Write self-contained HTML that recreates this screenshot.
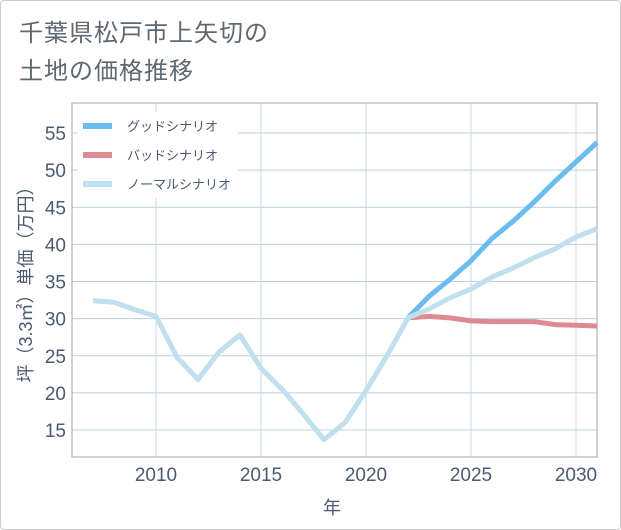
<!DOCTYPE html>
<html><head><meta charset="utf-8"><style>
html,body{margin:0;padding:0;background:#fff}
#card{position:absolute;left:0;top:0;width:619px;height:528px;border:1px solid #ccc;border-radius:4px;background:#fff}
#title{position:absolute;left:18px;top:14px;font:24px/38px "Liberation Sans","Noto Sans CJK JP",sans-serif;color:#5f6870;letter-spacing:1px}
svg text{font-family:"Liberation Sans","Noto Sans CJK JP",sans-serif}
</style></head><body>
<div id="card">
<div id="title">千葉県松戸市上矢切の<br>土地の価格推移</div>
</div>
<svg id="chart" width="621" height="530" style="position:absolute;left:0;top:0"></svg>
<script>
const normalYears=[2007,2008,2009,2010,2011,2012,2013,2014,2015,2016,2017,2018,2019,2020,2021,2022,2023,2024,2025,2026,2027,2028,2029,2030,2031];
const normalValues=[32.4,32.2,31.2,30.3,24.8,21.8,25.5,27.8,23.3,20.5,17.2,13.7,16,20.3,25,30.1,31.3,32.8,34,35.6,36.8,38.2,39.4,41,42.1];
const futureYears=[2022,2023,2024,2025,2026,2027,2028,2029,2030,2031];
const goodValues=[30.1,33,35.3,37.8,40.8,43.1,45.7,48.5,51.1,53.7];
const badValues=[30.1,30.3,30.1,29.7,29.6,29.6,29.6,29.2,29.1,29.0];
const yTicks=[15,20,25,30,35,40,45,50,55];
const xTicks=[2010,2015,2020,2025,2030];
const legendLabels=["グッドシナリオ","バッドシナリオ","ノーマルシナリオ"];

const L=72,R=597,T=103,B=457;
const xs=y=>156+(y-2010)*21;
const ys=v=>133+(55-v)*(297/40);
const svg=document.getElementById('chart');
const NS='http://www.w3.org/2000/svg';
function mk(t,a){const e=document.createElementNS(NS,t);for(const k in a)e.setAttribute(k,a[k]);svg.appendChild(e);return e;}
yTicks.forEach(v=>{
  const l=mk('line',{x1:L,x2:R,y1:ys(v),y2:ys(v),stroke:'#bcd0e0','stroke-width':1});
  
  
  const t=mk('text',{x:66,y:ys(v)+7,'text-anchor':'end','font-size':19,fill:'#4a5a70'});
  t.textContent=v;
  
  
});
xTicks.forEach(v=>{
  const l=mk('line',{x1:xs(v),x2:xs(v),y1:T,y2:B,stroke:'#c8d8e6','stroke-width':1});
  
  
  const t=mk('text',{x:xs(v),y:481,'text-anchor':'middle','font-size':19,fill:'#4a5a70'});
  t.textContent=v;
  
  
});
const fr=mk('path',{d:`M${L},${T}H${R}V${B}H${L}Z`,fill:'none',stroke:'#9aa4b0','stroke-width':1});


function line(xv,yv,c,n){
  const p=mk('polyline',{points:xv.map((x,i)=>xs(x)+','+ys(yv[i])).join(' '),fill:'none',stroke:c,'stroke-width':5,'stroke-linejoin':'round'});
  
  
}
line(futureYears,goodValues,'#6bbdf0','good-scenario-line');
line(futureYears,badValues,'#de8a92','bad-scenario-line');
line(normalYears,normalValues,'#bfe0ec','normal-scenario-line');
// legend
const lc=['#6bbdf0','#de8a92','#bfe0ec'];
const legBg=mk('rect',{x:78,y:112,width:160,height:86,fill:'#fff'});


legendLabels.forEach((s,i)=>{
  const y=126+i*29;
  const r=mk('rect',{x:83,y:y-3,width:29,height:6,fill:lc[i]});
  
  
  const t=mk('text',{x:127,y:y+5,'font-size':13,fill:'#4a5a70'});
  t.textContent=s;
  
  
});
const yt=mk('text',{transform:'translate(32,280) rotate(-90)','text-anchor':'middle','font-size':18,fill:'#4a5a70'});
yt.textContent='坪（3.3㎡）単価（万円）';


const xt=mk('text',{x:332,y:514,'text-anchor':'middle','font-size':18,fill:'#4a5a70'});
xt.textContent='年';


</script>
</body></html>
